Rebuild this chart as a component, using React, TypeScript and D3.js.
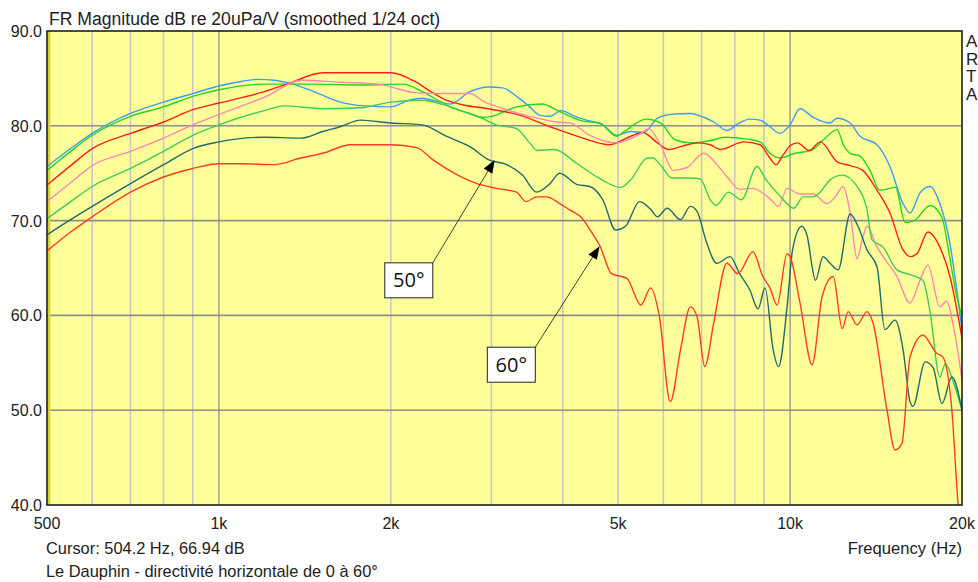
import { useEffect, useRef } from 'react';
import * as d3 from 'd3';

// frequency (Hz), level (dB)
const deg0 = [
  [500, 75.7], [550, 77.6], [600, 79.2], [700, 81.3], [800, 82.5], [900, 83.4], [1000, 84.2], [1100, 84.7],
  [1170, 84.9], [1250, 84.8], [1330, 84.5], [1480, 83.5], [1630, 82.5], [1800, 82.1], [2000, 82.0], [2150, 82.7],
  [2270, 82.9], [2400, 82.6], [2540, 82.3], [2750, 83.6], [2960, 84.1], [3140, 84.0], [3320, 83.1], [3500, 82.0],
  [3650, 81.1], [3800, 81.0], [3970, 81.6], [4200, 81.0], [4400, 80.6], [4700, 80.1], [4970, 79.0], [5260, 79.4],
  [5540, 79.3], [5860, 80.8], [6170, 81.2], [6690, 81.3], [7060, 80.9], [7350, 80.4], [7760, 79.5], [8100, 80.2],
  [8500, 80.7], [8860, 80.6], [9220, 79.9], [9600, 79.2], [10000, 80.1], [10410, 81.8], [10980, 80.9], [11750, 80.3],
  [12090, 80.8], [12740, 80.3], [13260, 78.9], [14200, 78.0], [14960, 75.7], [15770, 71.8], [16220, 70.8],
  [16880, 72.9], [17570, 73.6], [18290, 71.8], [19050, 67.6], [19500, 63.5], [20000, 58.5],
];

const deg10 = [
  [500, 75.3], [550, 77.3], [600, 79.0], [700, 81.0], [800, 82.0], [900, 83.1], [1000, 83.8], [1200, 84.4],
  [1400, 84.4], [1800, 84.3], [2100, 84.4], [2270, 83.6], [2450, 82.5], [2540, 82.0], [2750, 81.3], [2890, 80.9],
  [3010, 81.0], [3320, 82.0], [3680, 82.3], [3950, 81.5], [4340, 80.5], [4640, 80.3], [4970, 78.9], [5100, 79.3],
  [5600, 80.7], [5930, 80.3], [6300, 78.5], [6690, 78.2], [7200, 78.4], [7700, 78.8], [8400, 78.6], [8860, 78.3],
  [9220, 77.1], [9600, 76.6], [10200, 77.1], [10900, 77.4], [11430, 78.5], [12090, 79.6], [12400, 78.0],
  [12740, 77.1], [13260, 76.8], [13800, 75.3], [14370, 73.2], [15300, 73.5], [15900, 69.8], [16500, 70.0],
  [17600, 71.6], [18450, 70.3], [19050, 66.0], [19500, 62.5], [20000, 59.9],
];

const deg20 = [
  [500, 73.75], [550, 75.8], [600, 77.6], [700, 79.2], [800, 80.4], [900, 81.7], [1000, 82.4], [1200, 83.6],
  [1330, 84.5], [1520, 85.6], [1800, 85.6], [2000, 85.6], [2200, 84.7], [2350, 83.6], [2500, 82.7], [2680, 82.2],
  [2960, 81.8], [3370, 81.1], [3800, 79.9], [4340, 78.7], [4830, 78.0], [5260, 78.9], [5520, 79.3], [5860, 78.2],
  [6130, 77.5], [6510, 77.9], [6900, 78.2], [7250, 78.0], [7550, 77.5], [8300, 78.3], [8860, 78.0], [9220, 76.6],
  [9450, 75.9], [9720, 76.9], [10000, 77.9], [10300, 78.2], [10800, 77.4], [11300, 78.3], [12090, 76.2],
  [12740, 75.8], [13400, 75.3], [14200, 73.2], [14960, 70.8], [15770, 66.9], [16220, 66.2], [16680, 66.5],
  [17430, 68.8], [18290, 67.2], [19050, 64.1], [20000, 57.6],
];

const deg30 = [
  [500, 72.0], [550, 74.0], [600, 75.8], [700, 77.3], [800, 78.7], [900, 80.1], [1000, 81.2], [1200, 83.0],
  [1400, 84.8], [1630, 84.6], [1900, 84.4], [2000, 84.1], [2200, 83.5], [2500, 83.4], [2750, 83.4], [2900, 82.6],
  [3150, 81.8], [3500, 81.0], [3900, 80.4], [4120, 80.3], [4460, 79.0], [4970, 78.2], [5480, 79.2], [5650, 79.7],
  [5930, 78.0], [6240, 75.3], [6600, 75.6], [7060, 77.1], [7450, 75.9], [7760, 74.6], [8170, 73.3], [8600, 73.4],
  [9220, 72.3], [9550, 71.5], [9880, 73.4], [10410, 72.8], [10980, 72.8], [11600, 71.8], [12000, 72.5],
  [12390, 73.6], [12740, 70.8], [13100, 66.0], [13420, 68.3], [13640, 69.4], [14200, 67.2], [14550, 66.2],
  [15390, 64.1], [16220, 61.3], [16880, 63.7], [17430, 65.3], [18290, 60.9], [18800, 61.5], [19300, 59.0],
  [20000, 53.2],
];

const deg40 = [
  [500, 70.2], [550, 72.0], [600, 73.6], [700, 75.5], [800, 77.3], [900, 79.0], [1000, 80.1], [1200, 81.6],
  [1300, 82.1], [1520, 81.8], [1770, 81.9], [2000, 82.5], [2270, 82.7], [2480, 82.2], [2680, 81.5], [2860, 80.9],
  [3060, 80.1], [3320, 79.7], [3500, 78.2], [3610, 77.4], [3860, 77.5], [4240, 76.0], [4620, 74.5], [5050, 73.5],
  [5260, 74.3], [5630, 76.6], [5750, 76.6], [5960, 75.7], [6200, 74.5], [6690, 74.5], [6960, 74.4], [7250, 72.2],
  [7420, 71.6], [7800, 73.0], [8220, 72.2], [8750, 75.7], [9080, 74.3], [9600, 72.6], [10150, 71.3], [10540, 72.5],
  [10980, 72.5], [11290, 73.0], [11750, 74.3], [12340, 74.8], [13100, 73.6], [13640, 71.1], [13910, 68.0],
  [14550, 67.2], [15390, 64.8], [16220, 64.3], [17080, 63.7], [17570, 60.5], [18290, 53.5], [18700, 54.9],
  [19300, 53.0], [20000, 50.0],
];

const deg50 = [
  [500, 68.5], [550, 70.1], [600, 71.5], [700, 73.9], [800, 75.9], [900, 77.6], [1000, 78.3], [1200, 78.8],
  [1390, 78.7], [1520, 79.4], [1630, 79.9], [1770, 80.6], [2000, 80.3], [2270, 80.1], [2500, 78.9], [2750, 77.8],
  [2970, 76.4], [3190, 75.9], [3400, 74.8], [3600, 73.0], [3800, 73.9], [3950, 75.0], [4240, 73.8], [4460, 73.6],
  [4700, 72.2], [4950, 69.0], [5150, 69.4], [5450, 72.0], [5700, 71.2], [5860, 70.4], [6090, 71.3], [6430, 70.1],
  [6690, 71.5], [6870, 71.0], [7150, 67.6], [7440, 65.5], [7850, 66.2], [8160, 64.4], [8500, 62.7], [8790, 60.7],
  [9040, 62.9], [9340, 56.4], [9550, 54.6], [9880, 60.9], [10100, 66.9], [10480, 69.4], [10700, 68.5],
  [11080, 63.7], [11420, 66.2], [11750, 65.5], [12140, 64.8], [12740, 70.7], [13150, 69.4], [13640, 66.9],
  [14200, 65.1], [14660, 58.5], [15270, 59.5], [15770, 56.4], [16220, 50.9], [16410, 50.4], [17240, 55.1],
  [17800, 54.5], [18450, 50.7], [19200, 53.5], [20000, 50.0],
];

const deg60 = [
  [500, 66.8], [550, 68.8], [600, 70.4], [700, 73.0], [800, 74.6], [900, 75.5], [1000, 76.0], [1100, 76.0],
  [1250, 75.9], [1390, 76.6], [1520, 77.1], [1700, 78.0], [2000, 78.0], [2220, 77.7], [2370, 76.4], [2620, 74.8],
  [2830, 73.9], [3060, 73.4], [3320, 73.0], [3450, 72.0], [3600, 72.5], [3750, 72.5], [3950, 71.8], [4120, 71.1],
  [4300, 70.4], [4500, 68.7], [4640, 67.4], [4870, 64.4], [5180, 63.9], [5480, 61.1], [5700, 62.9], [5900, 60.0],
  [6170, 50.9], [6430, 56.4], [6690, 60.9], [6870, 59.9], [7090, 54.6], [7350, 59.2], [7750, 65.5], [8100, 64.4],
  [8610, 66.7], [8960, 64.1], [9220, 62.9], [9490, 61.1], [9880, 66.5], [10000, 66.2], [10410, 61.3],
  [10930, 54.8], [11380, 62.0], [11900, 64.1], [12340, 58.6], [12640, 60.4], [13100, 59.0], [13640, 60.4],
  [13970, 59.2], [14780, 50.0], [15270, 45.8], [15700, 46.5], [16220, 55.6], [17080, 57.9], [18070, 56.0],
  [18520, 55.6], [19200, 50.0], [19680, 40.2], [20000, 36.0],
];

const series = [
  { name: '0°', color: '#3d9cf0', data: deg0 },
  { name: '10°', color: '#22d622', data: deg10 },
  { name: '20°', color: '#ff1e1e', data: deg20 },
  { name: '30°', color: '#ff86b4', data: deg30 },
  { name: '40°', color: '#3ccc5a', data: deg40 },
  { name: '50°', color: '#1f6c6c', data: deg50 },
  { name: '60°', color: '#ff3a28', data: deg60 },
];

const xTickValues = [500, 1000, 2000, 5000, 10000, 20000];
const xTickLabels = ['500', '1k', '2k', '5k', '10k', '20k'];
const yTickValues = [40, 50, 60, 70, 80, 90];
const minorFreqs = [600, 700, 800, 900, 2000, 3000, 4000, 5000, 6000, 7000, 8000, 9000];
const majorFreqs = [1000, 10000];
const legendLetters = ['A', 'R', 'T', 'A'];
const cursorFreq = 504.2;

// arrow tip on the curve, label box centre
const annotations = [
  { label: '50°', tipFreq: 3040, tipDb: 76.4, boxFreq: 2150, boxDb: 63.7 },
  { label: '60°', tipFreq: 4640, tipDb: 67.3, boxFreq: 3250, boxDb: 54.8 },
];

const App = () => {
  const svgRef = useRef<SVGSVGElement>(null);

  useEffect(() => {
    const svg = d3.select(svgRef.current);
    svg.selectAll('*').remove();

    const W = 978, H = 582;
    const left = 47, right = 962, top = 31, bottom = 505;
    const font = "'Liberation Sans', Arial, sans-serif";

    const x = d3.scaleLog().domain([500, 20000]).range([left, right]);
    const y = d3.scaleLinear().domain([40, 90]).range([bottom, top]);

    svg.append('rect').attr('width', W).attr('height', H).attr('fill', '#ffffff');

    svg.append('defs').append('clipPath').attr('id', 'plotClip')
      .append('rect').attr('x', left).attr('y', top).attr('width', right - left).attr('height', bottom - top);

    svg.append('rect')
      .attr('x', left).attr('y', top).attr('width', right - left).attr('height', bottom - top)
      .attr('fill', '#ffff99');

    // grid
    const grid = svg.append('g');
    grid.selectAll('.minor').data(minorFreqs).enter().append('line')
      .attr('x1', d => x(d)).attr('x2', d => x(d)).attr('y1', top).attr('y2', bottom)
      .attr('stroke', '#c9c9c2').attr('stroke-width', 1.6);
    grid.selectAll('.major').data(majorFreqs).enter().append('line')
      .attr('x1', d => x(d)).attr('x2', d => x(d)).attr('y1', top).attr('y2', bottom)
      .attr('stroke', '#8a8a8a').attr('stroke-width', 1.2);
    grid.selectAll('.hline').data(yTickValues.slice(1, -1)).enter().append('line')
      .attr('x1', left).attr('x2', right).attr('y1', d => y(d)).attr('y2', d => y(d))
      .attr('stroke', '#8e8e8a').attr('stroke-width', 1.6);

    // cursor
    svg.append('line')
      .attr('x1', x(cursorFreq)).attr('x2', x(cursorFreq)).attr('y1', top).attr('y2', bottom)
      .attr('stroke', '#d6cf3c').attr('stroke-width', 2.5);

    const line = d3.line<number[]>()
      .x(d => x(d[0]))
      .y(d => y(d[1]))
      .curve(d3.curveMonotoneX);

    const curves = svg.append('g').attr('clip-path', 'url(#plotClip)');
    curves.selectAll('path').data(series).enter().append('path')
      .attr('d', d => line(d.data))
      .attr('fill', 'none')
      .attr('stroke', d => d.color)
      .attr('stroke-width', 1.4)
      .attr('stroke-linejoin', 'round');

    // annotations
    const ann = svg.append('g');
    annotations.forEach(a => {
      const bw = 48, bh = 35;
      const cx = x(a.boxFreq), cy = y(a.boxDb);
      const sx = cx + bw / 2, sy = cy - bh / 2;
      const tx = x(a.tipFreq), ty = y(a.tipDb);
      const ang = Math.atan2(ty - sy, tx - sx);
      const hl = 13, hw = 5;
      const bx = tx - hl * Math.cos(ang), by = ty - hl * Math.sin(ang);
      ann.append('line')
        .attr('x1', sx).attr('y1', sy).attr('x2', bx).attr('y2', by)
        .attr('stroke', '#111').attr('stroke-width', 0.8);
      ann.append('path')
        .attr('d', `M${tx},${ty}L${bx + hw * Math.sin(ang)},${by - hw * Math.cos(ang)}L${bx - hw * Math.sin(ang)},${by + hw * Math.cos(ang)}Z`)
        .attr('fill', '#000');
      ann.append('rect')
        .attr('x', cx - bw / 2).attr('y', cy - bh / 2).attr('width', bw).attr('height', bh)
        .attr('fill', '#ffffff').attr('stroke', '#222').attr('stroke-width', 1);
      ann.append('text')
        .attr('x', cx).attr('y', cy + 7)
        .attr('text-anchor', 'middle')
        .attr('font-family', "'Open Sans', 'Noto Sans', sans-serif")
        .attr('font-size', 20).attr('fill', '#111')
        .text(a.label);
    });

    // frame
    svg.append('rect')
      .attr('x', left).attr('y', top).attr('width', right - left).attr('height', bottom - top)
      .attr('fill', 'none').attr('stroke', '#1e1e1e').attr('stroke-width', 1.6);

    // y labels
    svg.append('g').selectAll('text').data(yTickValues).enter().append('text')
      .attr('x', 42).attr('y', d => y(d) + 6)
      .attr('text-anchor', 'end')
      .attr('font-family', font).attr('font-size', 16).attr('fill', '#222')
      .text(d => d.toFixed(1));

    // x labels
    svg.append('g').selectAll('text').data(xTickValues).enter().append('text')
      .attr('x', d => x(d)).attr('y', 529)
      .attr('text-anchor', 'middle')
      .attr('font-family', font).attr('font-size', 16).attr('fill', '#222')
      .text((d, i) => xTickLabels[i]);

    svg.append('text')
      .attr('x', 49).attr('y', 25)
      .attr('font-family', font).attr('font-size', 17.6).attr('fill', '#222')
      .text('FR Magnitude dB re 20uPa/V (smoothed 1/24 oct)');

    svg.append('text')
      .attr('x', 46).attr('y', 554)
      .attr('font-family', font).attr('font-size', 16.4).attr('fill', '#222')
      .text('Cursor: 504.2 Hz, 66.94 dB');

    svg.append('text')
      .attr('x', 46).attr('y', 577)
      .attr('font-family', font).attr('font-size', 16.4).attr('fill', '#222')
      .text('Le Dauphin - directivité horizontale de 0 à 60°');

    svg.append('text')
      .attr('x', 962).attr('y', 554)
      .attr('text-anchor', 'end')
      .attr('font-family', font).attr('font-size', 16.6).attr('fill', '#222')
      .text('Frequency (Hz)');

    svg.append('g').selectAll('text').data(legendLetters).enter().append('text')
      .attr('x', 966).attr('y', (d, i) => 47 + i * 17.7)
      .attr('font-family', font).attr('font-size', 17).attr('fill', '#222')
      .text(d => d);
  }, []);

  return (
    <svg
      ref={svgRef}
      width={978}
      height={582}
      style={{ position: 'absolute', left: 0, top: 0, display: 'block' }}
    />
  );
};

export default App;
